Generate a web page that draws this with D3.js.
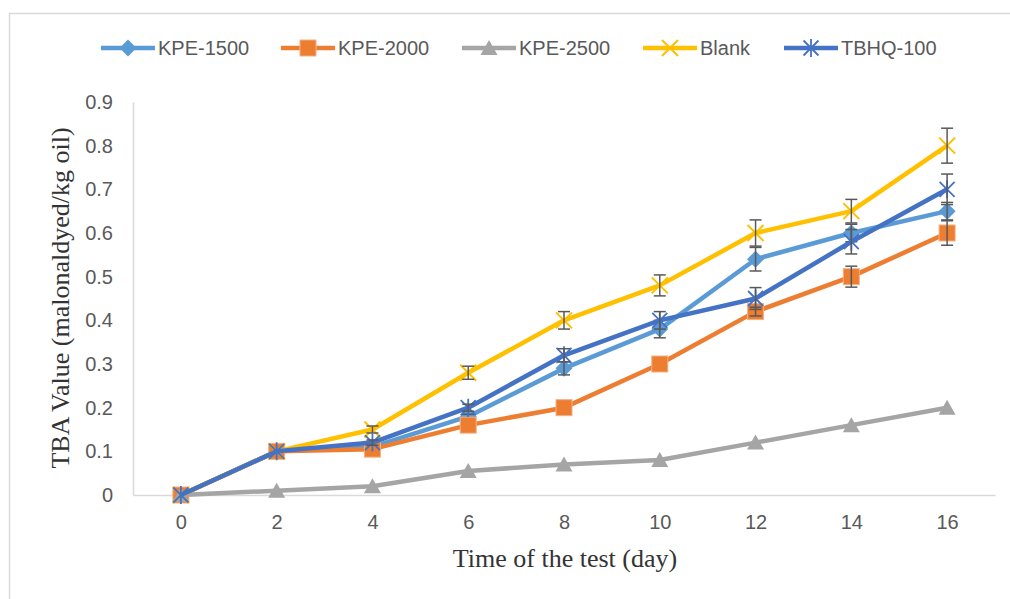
<!DOCTYPE html>
<html>
	<head>
		<meta charset="utf-8">
		<title>TBA value</title>
		<style>
			body {
			  margin: 0;
			  background: #fff;
			  overflow: hidden;
			}
			svg {
			  position: absolute;
			  left: 0;
			  top: 0;
			}
		</style>
		<script src="https://cdnjs.cloudflare.com/ajax/libs/d3/7.8.5/d3.min.js" charset="utf-8"></script>
	</head>
	<body>
		<script>

		// data
		var days = [0, 2, 4, 6, 8, 10, 12, 14, 16];
		var yTicks = [0, 0.1, 0.2, 0.3, 0.4, 0.5, 0.6, 0.7, 0.8, 0.9];

		var kpe1500 = [0, 0.10, 0.11, 0.18, 0.29, 0.38, 0.54, 0.60, 0.65];
		var kpe2000 = [0, 0.10, 0.105, 0.16, 0.20, 0.30, 0.42, 0.50, 0.60];
		var kpe2500 = [0, 0.01, 0.02, 0.055, 0.07, 0.08, 0.12, 0.16, 0.20];
		var blank   = [0, 0.10, 0.15, 0.28, 0.40, 0.48, 0.60, 0.65, 0.80];
		var tbhq    = [0, 0.10, 0.12, 0.20, 0.32, 0.40, 0.45, 0.58, 0.70];

		// error bar half widths
		var err1500  = [0, 0, 0, 0.005, 0.015, 0.02, 0.027, 0.02, 0.02];
		var err2000  = [0, 0, 0, 0, 0, 0, 0.01, 0.024, 0.028];
		var err2500  = [0, 0, 0, 0, 0, 0, 0, 0, 0];
		var errBlank = [0, 0, 0.008, 0.015, 0.02, 0.024, 0.03, 0.027, 0.04];
		var errTbhq  = [0, 0, 0.006, 0.008, 0.015, 0.02, 0.025, 0.028, 0.035];

		var series = [
			{name: "KPE-1500", values: kpe1500, err: err1500, color: "#5B9BD5", marker: "diamond"},
			{name: "KPE-2000", values: kpe2000, err: err2000, color: "#ED7D31", marker: "square"},
			{name: "KPE-2500", values: kpe2500, err: err2500, color: "#A5A5A5", marker: "triangle"},
			{name: "Blank",    values: blank,   err: errBlank, color: "#FFC000", marker: "x"},
			{name: "TBHQ-100", values: tbhq,    err: errTbhq,  color: "#4472C4", marker: "star"}
		];

		var w = 1010,
			h = 599;

		var svg = d3.select("body").append("svg")
			.attr("width", w)
			.attr("height", h);

		// outer chart border (runs off the right and bottom)
		svg.append("rect")
			.attr("x", 9.5).attr("y", 13.5)
			.attr("width", 1100).attr("height", 700)
			.attr("fill", "none")
			.attr("stroke", "#d9d9d9")
			.attr("stroke-width", 1.5);

		var x = d3.scalePoint().domain(days).range([133, 995]).padding(0.5);
		var y = d3.scaleLinear().domain([0, 0.9]).range([495, 102]);

		var xAxis = d3.axisBottom(x).tickSize(0).tickPadding(20);
		var yAxis = d3.axisLeft(y).tickValues(yTicks).tickSize(0).tickPadding(20)
			.tickFormat(function (d) { return d === 0 ? "0" : d3.format(".1f")(d); });

		var gx = svg.append("g").attr("transform", "translate(0,495)").call(xAxis);
		var gy = svg.append("g").attr("transform", "translate(133,0)").call(yAxis);

		[gx, gy].forEach(function (g) {
			g.select(".domain").attr("stroke", "#d9d9d9").attr("stroke-width", 1.5);
			g.selectAll("text")
				.attr("fill", "#595959")
				.attr("font-family", "'Liberation Sans', Arial, sans-serif")
				.attr("font-size", "20px");
		});

		// axis titles
		svg.append("text")
			.text("Time of the test (day)")
			.attr("x", 565).attr("y", 567)
			.attr("text-anchor", "middle")
			.attr("font-family", "'Liberation Serif', 'Times New Roman', serif")
			.attr("font-size", "26px")
			.attr("fill", "#333");

		svg.append("text")
			.text("TBA Value (malonaldyed/kg oil)")
			.attr("transform", "translate(69,298) rotate(-90)")
			.attr("text-anchor", "middle")
			.attr("font-family", "'Liberation Serif', 'Times New Roman', serif")
			.attr("font-size", "26px")
			.attr("fill", "#333");

		function drawMarker(g, type, color) {
			if (type === "diamond") {
				g.append("path").attr("d", "M0,-8.5L8.5,0L0,8.5L-8.5,0Z").attr("fill", color);
			} else if (type === "square") {
				g.append("rect").attr("x", -8).attr("y", -8).attr("width", 16).attr("height", 16)
					.attr("fill", color).attr("stroke", "#F4B183").attr("stroke-width", 1);
			} else if (type === "triangle") {
				g.append("path").attr("d", "M0,-8L8.5,7L-8.5,7Z").attr("fill", color);
			} else if (type === "x") {
				g.append("path").attr("d", "M-8,-8L8,8M8,-8L-8,8")
					.attr("stroke", color).attr("stroke-width", 2).attr("fill", "none");
			} else if (type === "star") {
				g.append("path").attr("d", "M-7.5,-7.5L7.5,7.5M7.5,-7.5L-7.5,7.5M0,-9L0,9")
					.attr("stroke", color).attr("stroke-width", 1.8).attr("fill", "none");
			}
		}

		var line = d3.line()
			.x(function (d, i) { return x(days[i]); })
			.y(function (d) { return y(d); });

		series.forEach(function (s) {
			var g = svg.append("g").attr("class", "series");

			g.append("path")
				.datum(s.values)
				.attr("d", line)
				.attr("fill", "none")
				.attr("stroke", s.color)
				.attr("stroke-width", 4.5)
				.attr("stroke-linejoin", "round");

			s.values.forEach(function (v, i) {
				var m = g.append("g").attr("transform", "translate(" + x(days[i]) + "," + y(v) + ")");
				drawMarker(m, s.marker, s.color);
			});

			// error bars
			s.err.forEach(function (e, i) {
				if (!e) return;
				var cx = x(days[i]),
					y1 = y(s.values[i] + e),
					y2 = y(s.values[i] - e);
				var eb = g.append("g").attr("stroke", "#595959").attr("stroke-width", 1.5);
				eb.append("line").attr("x1", cx).attr("x2", cx).attr("y1", y1).attr("y2", y2);
				eb.append("line").attr("x1", cx - 6).attr("x2", cx + 6).attr("y1", y1).attr("y2", y1);
				eb.append("line").attr("x1", cx - 6).attr("x2", cx + 6).attr("y1", y2).attr("y2", y2);
			});
		});

		// legend
		var legendX = [101, 281, 462, 643, 784];
		var legend = svg.append("g").attr("class", "legend");
		series.forEach(function (s, i) {
			var lg = legend.append("g").attr("transform", "translate(" + legendX[i] + ",48)");
			lg.append("line").attr("x1", 0).attr("x2", 54).attr("y1", 0).attr("y2", 0)
				.attr("stroke", s.color).attr("stroke-width", 4.5);
			drawMarker(lg.append("g").attr("transform", "translate(27,0)"), s.marker, s.color);
			lg.append("text").text(s.name)
				.attr("x", 57).attr("y", 7)
				.attr("fill", "#595959")
				.attr("font-family", "'Liberation Sans', Arial, sans-serif")
				.attr("font-size", "20px");
		});

		</script>
	</body>
</html>
